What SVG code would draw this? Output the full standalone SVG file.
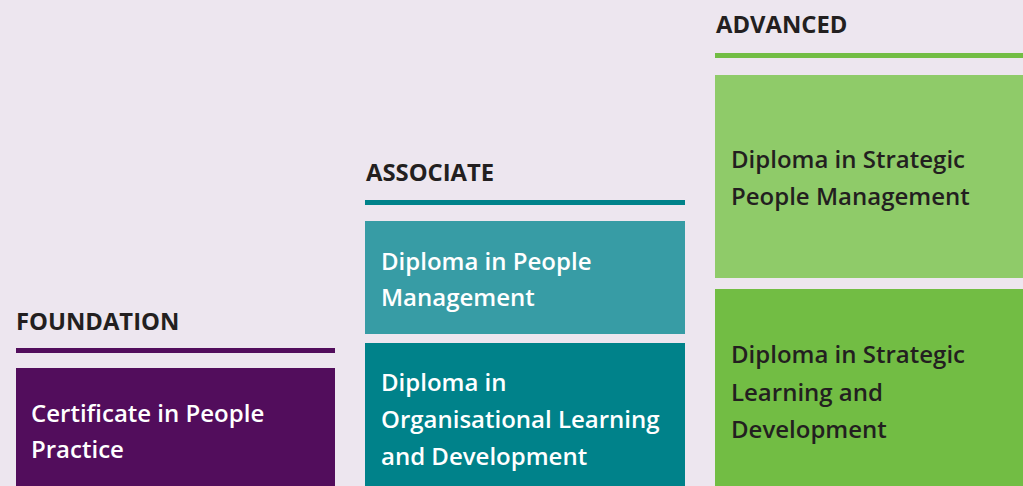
<svg xmlns="http://www.w3.org/2000/svg" width="1023" height="486" viewBox="0 0 1023 486">
<style>
.title{font-family:"Open Sans","Liberation Sans",sans-serif;font-weight:700;font-size:23.8px;fill:#231f20}
.lbl{font-family:"Open Sans","Liberation Sans",sans-serif;font-weight:600;font-size:24px}
.w{fill:#ffffff}
.d{fill:#231f20}
</style>
<rect x="0" y="0" width="1023" height="486" fill="#ede6ef"/>
<g id="foundation">
<text class="title" x="16" y="330">FOUNDATION</text>
<rect x="16" y="348" width="319" height="5" fill="#520d5c"/>
</g>
<g id="certificate-people-practice">
<rect x="16" y="368" width="319" height="118" fill="#520d5c"/>
<text class="lbl w" x="31" y="422">Certificate in People</text>
<text class="lbl w" x="31" y="458">Practice</text>
</g>
<g id="associate">
<text class="title" x="366" y="181">ASSOCIATE</text>
<rect x="365" y="200" width="320" height="5" fill="#00828a"/>
</g>
<g id="diploma-people-management">
<rect x="365" y="221" width="320" height="113" fill="#379ca5"/>
<text class="lbl w" x="381" y="270">Diploma in People</text>
<text class="lbl w" x="381" y="306">Management</text>
</g>
<g id="diploma-old">
<rect x="365" y="343" width="320" height="143" fill="#00828a"/>
<text class="lbl w" x="381" y="391">Diploma in</text>
<text class="lbl w" x="381" y="428">Organisational Learning</text>
<text class="lbl w" x="381" y="465">and Development</text>
</g>
<g id="advanced">
<text class="title" x="716" y="33">ADVANCED</text>
<rect x="715" y="53" width="308" height="5" fill="#72bd44"/>
</g>
<g id="diploma-strategic-people-management">
<rect x="715" y="75" width="308" height="203" fill="#8fcb69"/>
<text class="lbl d" x="731" y="168">Diploma in Strategic</text>
<text class="lbl d" x="731" y="205">People Management</text>
</g>
<g id="diploma-strategic-ld">
<rect x="715" y="289" width="308" height="197" fill="#72bd44"/>
<text class="lbl d" x="731" y="363">Diploma in Strategic</text>
<text class="lbl d" x="731" y="401">Learning and</text>
<text class="lbl d" x="731" y="438">Development</text>
</g>
<g id="connectors"></g>
</svg>
